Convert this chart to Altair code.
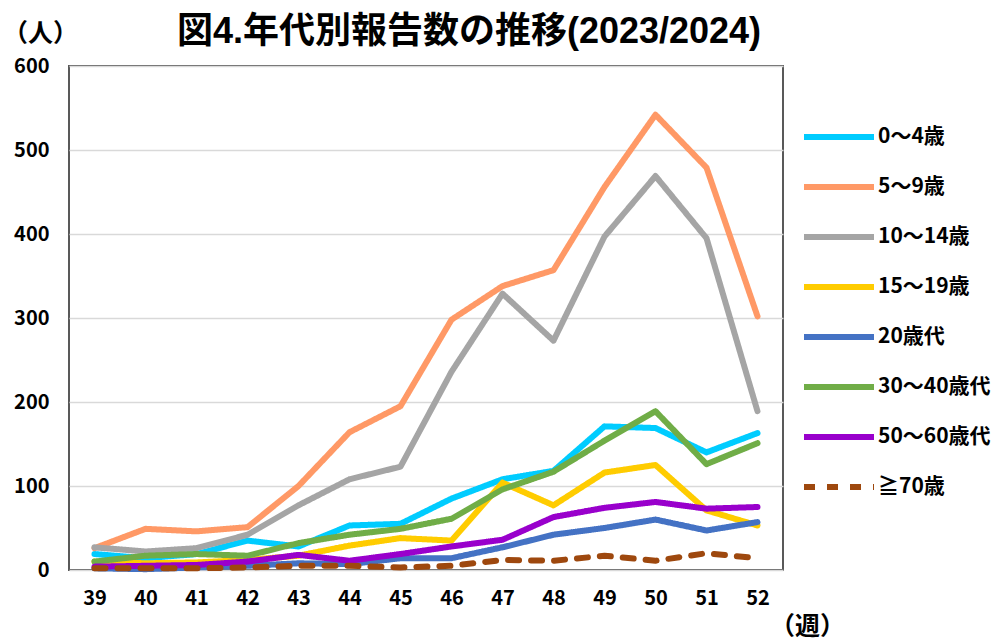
import altair as alt
import pandas as pd

weeks = [39, 40, 41, 42, 43, 44, 45, 46, 47, 48, 49, 50, 51, 52]
series_names = ["0～4歳", "5～9歳", "10～14歳", "15～19歳", "20歳代", "30～40歳代", "50～60歳代", "≧70歳"]
series_colors = ["#00CCFF", "#FF9966", "#A5A5A5", "#FFCC00", "#4472C4", "#70AD47", "#9900CC", "#9E480E"]

age_0_4 = [19, 14, 19, 35, 28, 53, 55, 85, 108, 118, 171, 169, 140, 163]
age_5_9 = [26, 49, 46, 51, 100, 164, 195, 298, 338, 357, 456, 542, 479, 302]
age_10_14 = [27, 22, 26, 42, 77, 108, 123, 236, 329, 273, 397, 469, 395, 189]
age_15_19 = [10, 8, 9, 12, 17, 29, 38, 35, 104, 77, 116, 125, 71, 53]
age_20s = [2, 1, 3, 5, 8, 7, 14, 14, 27, 42, 50, 60, 47, 57]
age_30_40s = [10, 17, 19, 17, 32, 42, 49, 61, 96, 117, 154, 189, 126, 151]
age_50_60s = [4, 5, 6, 10, 18, 11, 19, 28, 36, 63, 74, 81, 73, 75]
age_70_plus = [2, 2, 2, 3, 5, 5, 3, 5, 12, 11, 17, 11, 20, 14]

all_values = [age_0_4, age_5_9, age_10_14, age_15_19, age_20s, age_30_40s, age_50_60s, age_70_plus]

rows = []
for idx, (name, vals) in enumerate(zip(series_names, all_values)):
    for w, v in zip(weeks, vals):
        rows.append({"week": str(w), "series": name, "count": v, "idx": idx})
df = pd.DataFrame(rows)

FONT = "Noto Sans CJK JP"
TOP_FONT = "Liberation Sans, Noto Sans CJK JP"
dash_range = [[1, 0]] * 7 + [[11, 12]]

legend_kw = dict(
    orient="none", legendX=732, legendY=33, direction="vertical",
    symbolType="stroke", symbolSize=4900, symbolStrokeWidth=6,
    labelFontSize=21, labelFont=FONT, labelFontWeight="bold", labelColor="black",
    labelOffset=1, rowPadding=-3, title=None, labelLimit=300,
)

chart = alt.Chart(df).mark_line(strokeWidth=6, strokeCap="round", strokeJoin="round").encode(
    x=alt.X("week:O", sort=[str(w) for w in weeks],
            scale=alt.Scale(type="point", padding=0.5),
            axis=alt.Axis(title="（週）", labelAngle=0, ticks=False, domain=False, grid=False,
                          labelPadding=18, labelFontSize=20, labelFont=FONT, labelFontWeight="bold",
                          labelColor="black", titleFontSize=25, titleFont=FONT, titleFontWeight="bold",
                          titleColor="black", titleX=738, titleY=56, titleAngle=0,
                          titleBaseline="middle", titleAlign="center")),
    y=alt.Y("count:Q", scale=alt.Scale(domain=[0, 600], nice=False),
            axis=alt.Axis(values=[0, 100, 200, 300, 400, 500, 600], title="（人）",
                          titleAngle=0, titleX=-29, titleY=-33, titleBaseline="middle", titleAlign="center",
                          titleFontSize=25, titleFont=TOP_FONT, titleFontWeight="bold", titleColor="black",
                          grid=True, gridColor="#D9D9D9", gridWidth=1.5, ticks=False, domain=False,
                          labelPadding=20, labelFontSize=20, labelFont=FONT, labelFontWeight="bold",
                          labelColor="black")),
    color=alt.Color("series:N", scale=alt.Scale(domain=series_names, range=series_colors),
                    legend=alt.Legend(**legend_kw)),
    strokeDash=alt.StrokeDash("series:N", scale=alt.Scale(domain=series_names, range=dash_range),
                              legend=alt.Legend(**legend_kw)),
).properties(
    width=714, height=504,
    autosize=alt.AutoSizeParams(type="none"),
    padding={"left": 61, "top": 58, "right": 216, "bottom": 70},
    title=alt.TitleParams(text="図4.年代別報告数の推移(2023/2024)", fontSize=36, font=TOP_FONT,
                          fontWeight="bold", color="black", anchor="middle", frame="group",
                          dx=43, offset=-30),
).configure_view(stroke="#595959", strokeWidth=2)

chart.save("out.html", embed_options={"renderer": "svg", "actions": False})
